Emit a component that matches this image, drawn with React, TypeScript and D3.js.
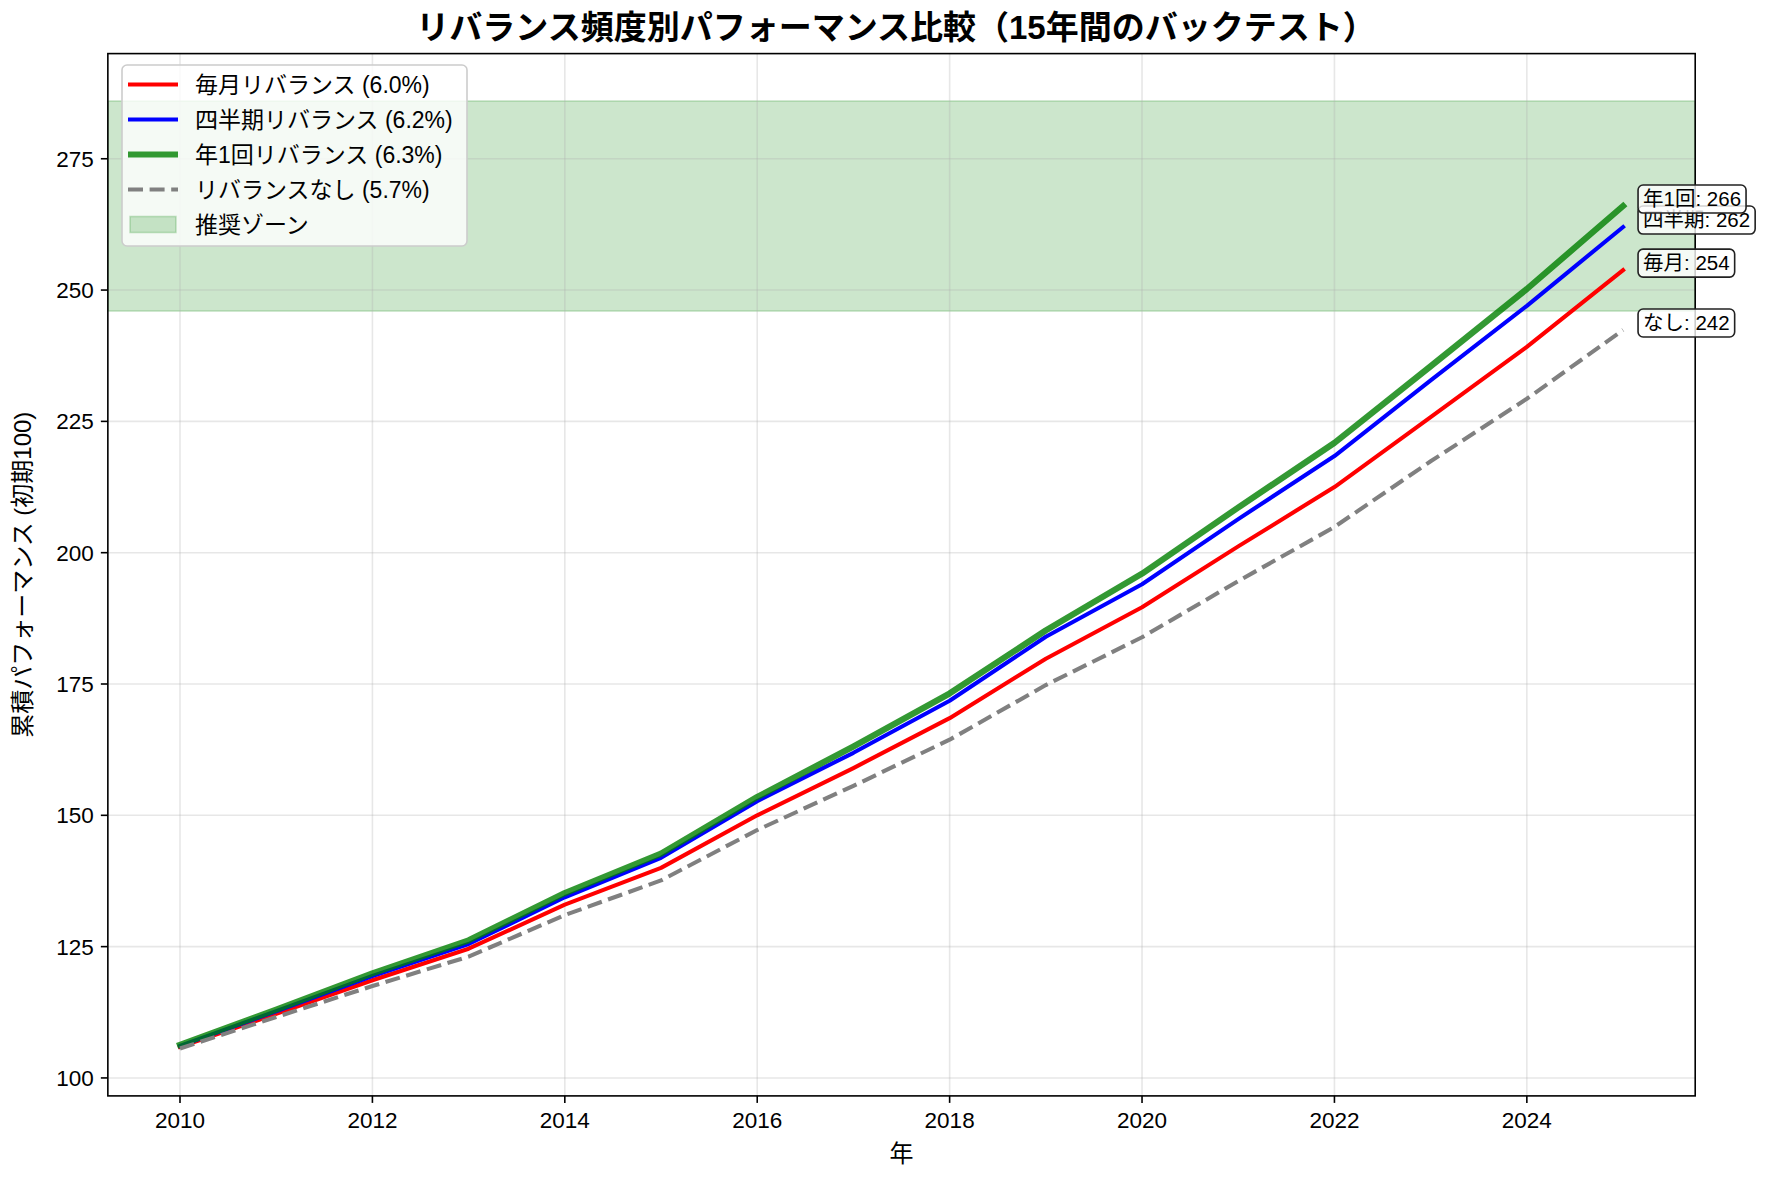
import { useEffect, useRef } from "react";
import * as d3 from "d3";

// values (index 100 at start)
const years = [2010, 2011, 2012, 2013, 2014, 2015, 2016, 2017, 2018, 2019, 2020, 2021, 2022, 2023, 2024, 2025];
const monthly = [105.9, 112.2, 118.6, 124.6, 133.0, 140.0, 150.0, 159.0, 168.5, 179.8, 189.6, 201.2, 212.5, 225.8, 239.2, 253.8];
const quarterly = [106.1, 112.7, 119.4, 125.5, 134.4, 141.9, 152.7, 161.9, 171.8, 184.0, 194.0, 206.4, 218.4, 232.8, 247.0, 262.0];
const annual = [106.3, 113.0, 119.9, 126.2, 135.2, 142.7, 153.5, 163.1, 173.2, 185.2, 196.0, 208.6, 220.9, 235.5, 250.2, 266.0];
const noRebalance = [105.6, 111.6, 117.5, 123.1, 131.0, 137.6, 147.2, 155.6, 164.4, 174.8, 183.9, 194.6, 204.9, 217.4, 229.3, 242.4];

const legendNames = ["毎月リバランス (6.0%)", "四半期リバランス (6.2%)", "年1回リバランス (6.3%)", "リバランスなし (5.7%)"];
const shortNames = ["毎月", "四半期", "年1回", "なし"];
const zoneRange = [246, 286];
const zoneName = "推奨ゾーン";
const xTicks = [2010, 2012, 2014, 2016, 2018, 2020, 2022, 2024];
const yTicks = [100, 125, 150, 175, 200, 225, 250, 275];

// latin glyphs from Liberation, kana/kanji fall back to Noto CJK
const FONT = "'Liberation Sans', 'Noto Sans CJK JP', sans-serif";

const App = () => {
  const svgRef = useRef<SVGSVGElement>(null);

  useEffect(() => {
    const svg = d3.select(svgRef.current);
    svg.selectAll("*").remove();

    const W = 1774,
      H = 1181;
    const box = { left: 107.85, right: 1695.2, top: 53.6, bottom: 1095.9 };

    const series = [
      { values: monthly, color: "#ff0000", width: 4.1, opacity: 1, dash: null },
      { values: quarterly, color: "#0000ff", width: 4.1, opacity: 1, dash: null },
      { values: annual, color: "#008000", width: 6.2, opacity: 0.8, dash: null },
      { values: noRebalance, color: "#808080", width: 4.1, opacity: 1, dash: "15,6.6" },
    ];

    // matplotlib-like 5% padding
    const xMin = d3.min(years)!,
      xMax = d3.max(years)!;
    const xPad = (xMax - xMin) * 0.05;
    const x = d3.scaleLinear().domain([xMin - xPad, xMax + xPad]).range([box.left, box.right]);

    const allVals = series.flatMap((s) => s.values);
    const yLo = Math.min(d3.min(allVals)!, zoneRange[0]);
    const yHi = Math.max(d3.max(allVals)!, zoneRange[1]);
    const yPad = (yHi - yLo) * 0.05;
    const y = d3.scaleLinear().domain([yLo - yPad, yHi + yPad]).range([box.bottom, box.top]);

    svg.append("rect").attr("width", W).attr("height", H).attr("fill", "#fff");

    // recommended zone
    svg
      .append("rect")
      .attr("x", box.left)
      .attr("width", box.right - box.left)
      .attr("y", y(zoneRange[1]))
      .attr("height", y(zoneRange[0]) - y(zoneRange[1]))
      .attr("fill", "#008000")
      .attr("fill-opacity", 0.2)
      .attr("stroke", "#008000")
      .attr("stroke-opacity", 0.2)
      .attr("stroke-width", 1.6);

    // grid
    const grid = svg.append("g").attr("stroke", "#b0b0b0").attr("stroke-opacity", 0.3).attr("stroke-width", 1.6);
    xTicks.forEach((t) =>
      grid.append("line").attr("x1", x(t)).attr("x2", x(t)).attr("y1", box.top).attr("y2", box.bottom)
    );
    yTicks.forEach((t) =>
      grid.append("line").attr("x1", box.left).attr("x2", box.right).attr("y1", y(t)).attr("y2", y(t))
    );

    svg
      .append("defs")
      .append("clipPath")
      .attr("id", "plot-clip")
      .append("rect")
      .attr("x", box.left)
      .attr("y", box.top)
      .attr("width", box.right - box.left)
      .attr("height", box.bottom - box.top);

    // lines
    const lineGen = d3
      .line<number>()
      .x((_, i) => x(years[i]))
      .y((d) => y(d));

    series.forEach((s) => {
      svg
        .append("path")
        .attr("clip-path", "url(#plot-clip)")
        .attr("d", lineGen(s.values))
        .attr("fill", "none")
        .attr("stroke", s.color)
        .attr("stroke-opacity", s.opacity)
        .attr("stroke-width", s.width)
        .attr("stroke-linejoin", "round")
        .attr("stroke-linecap", s.dash ? "butt" : "square")
        .attr("stroke-dasharray", s.dash);
    });

    // axes frame
    svg
      .append("rect")
      .attr("x", box.left)
      .attr("y", box.top)
      .attr("width", box.right - box.left)
      .attr("height", box.bottom - box.top)
      .attr("fill", "none")
      .attr("stroke", "#000")
      .attr("stroke-width", 1.6);

    // ticks + labels
    xTicks.forEach((t) => {
      svg
        .append("line")
        .attr("x1", x(t))
        .attr("x2", x(t))
        .attr("y1", box.bottom)
        .attr("y2", box.bottom + 7)
        .attr("stroke", "#000")
        .attr("stroke-width", 1.6);
      svg
        .append("text")
        .attr("x", x(t))
        .attr("y", box.bottom + 14)
        .attr("dy", "0.8em")
        .attr("text-anchor", "middle")
        .attr("font-family", FONT)
        .attr("font-size", "22.5px")
        .text(t);
    });
    yTicks.forEach((t) => {
      svg
        .append("line")
        .attr("x1", box.left - 7)
        .attr("x2", box.left)
        .attr("y1", y(t))
        .attr("y2", y(t))
        .attr("stroke", "#000")
        .attr("stroke-width", 1.6);
      svg
        .append("text")
        .attr("x", box.left - 14)
        .attr("y", y(t))
        .attr("dy", "0.36em")
        .attr("text-anchor", "end")
        .attr("font-family", FONT)
        .attr("font-size", "22.5px")
        .text(t);
    });

    // axis labels + title
    svg
      .append("text")
      .attr("x", (box.left + box.right) / 2)
      .attr("y", 1154)
      .attr("dy", "0.35em")
      .attr("text-anchor", "middle")
      .attr("font-family", FONT)
      .attr("font-size", "24px")
      .text("年");
    svg
      .append("text")
      .attr("transform", `translate(23,${(box.top + box.bottom) / 2}) rotate(-90)`)
      .attr("dy", "0.35em")
      .attr("text-anchor", "middle")
      .attr("font-family", FONT)
      .attr("font-size", "24px")
      .text("累積パフォーマンス (初期100)");
    svg
      .append("text")
      .attr("x", 896)
      .attr("y", 27)
      .attr("dy", "0.35em")
      .attr("text-anchor", "middle")
      .attr("font-family", FONT)
      .attr("font-weight", "bold")
      .attr("font-size", "33px")
      .text("リバランス頻度別パフォーマンス比較（15年間のバックテスト）");

    // end-of-line labels
    series.forEach((s, i) => {
      const last = s.values[s.values.length - 1];
      const cx = x(years[years.length - 1]) + 20;
      const cy = y(last) - 7;
      const g = svg.append("g");
      const bg = g.append("rect");
      const txt = g
        .append("text")
        .attr("x", cx)
        .attr("y", cy)
        .attr("dy", "0.36em")
        .attr("font-family", FONT)
        .attr("font-size", "20.5px")
        .text(`${shortNames[i]}: ${Math.round(last)}`);
      const bb = (txt.node() as SVGTextElement).getBBox();
      bg.attr("x", bb.x - 5)
        .attr("y", cy - 14)
        .attr("width", bb.width + 10)
        .attr("height", 28)
        .attr("rx", 5)
        .attr("fill", "#fff")
        .attr("fill-opacity", 0.8)
        .attr("stroke", "#222")
        .attr("stroke-width", 1.6);
    });

    // legend
    const legend = svg.append("g");
    legend
      .append("rect")
      .attr("x", 122)
      .attr("y", 65)
      .attr("width", 345)
      .attr("height", 181)
      .attr("rx", 5)
      .attr("fill", "#fff")
      .attr("fill-opacity", 0.8)
      .attr("stroke", "#cccccc")
      .attr("stroke-width", 1.6);
    const rowY = (i: number) => 84.5 + i * 35;
    series.forEach((s, i) => {
      legend
        .append("line")
        .attr("x1", 128)
        .attr("x2", 178)
        .attr("y1", rowY(i))
        .attr("y2", rowY(i))
        .attr("stroke", s.color)
        .attr("stroke-opacity", s.opacity)
        .attr("stroke-width", s.width)
        .attr("stroke-dasharray", s.dash);
      legend
        .append("text")
        .attr("x", 195)
        .attr("y", rowY(i))
        .attr("dy", "0.35em")
        .attr("font-family", FONT)
        .attr("font-size", "23px")
        .text(legendNames[i]);
    });
    legend
      .append("rect")
      .attr("x", 130)
      .attr("y", rowY(4) - 8)
      .attr("width", 46)
      .attr("height", 16)
      .attr("fill", "#008000")
      .attr("fill-opacity", 0.2)
      .attr("stroke", "#008000")
      .attr("stroke-opacity", 0.2)
      .attr("stroke-width", 1.6);
    legend
      .append("text")
      .attr("x", 195)
      .attr("y", rowY(4))
      .attr("dy", "0.35em")
      .attr("font-family", FONT)
      .attr("font-size", "23px")
      .text(zoneName);
  }, []);

  return (
    <svg
      ref={svgRef}
      width={1774}
      height={1181}
      style={{ position: "absolute", left: 0, top: 0, display: "block" }}
    />
  );
};

export default App;
